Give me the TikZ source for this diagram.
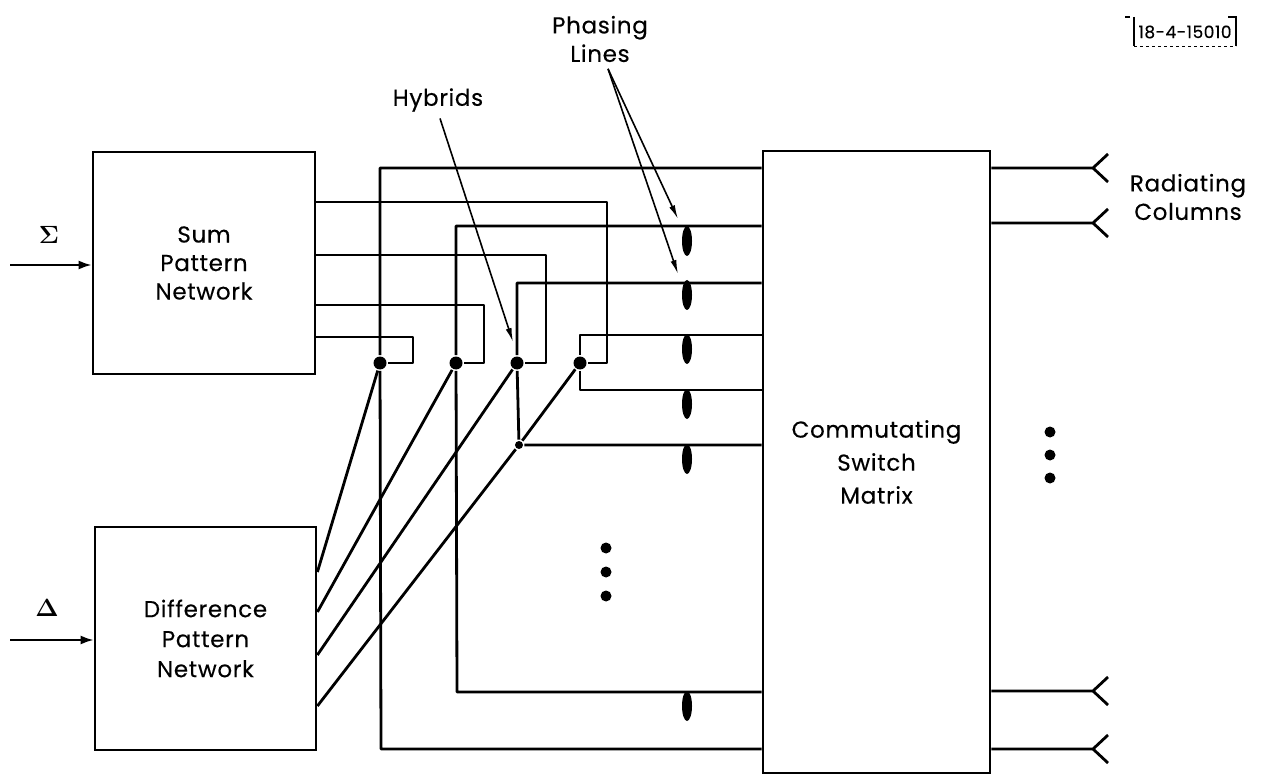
\documentclass[tikz,border=0pt]{standalone}
\usepackage{amsmath}
\usepackage{fontspec}
\setmainfont{Poppins}[LetterSpace=3,FakeBold=0.3]
\usepackage{tikz}
\usetikzlibrary{arrows.meta,positioning,shapes.geometric}

\begin{document}
\begin{tikzpicture}[
      x=1pt, y=-1pt,
      font=\fontsize{23}{28.5}\selectfont,
      line width=2.8pt,
      box/.style={draw, align=center, inner sep=0pt},
      feed/.style={line join=round},
      pointer/.style={-{Latex[length=14pt,width=6pt]}, line width=1.6pt},
      input/.style={-{Latex[length=13pt,width=9pt]}, line width=2pt},
      hybrid/.style={circle, fill=black, inner sep=0pt, minimum size=13pt},
      tee/.style={circle, fill=black, inner sep=0pt, minimum size=8pt},
      phaser/.style={ellipse, fill=black, inner sep=0pt, minimum width=10pt, minimum height=30pt},
      bigdot/.style={circle, fill=black, inner sep=0pt, minimum size=11pt}
    ]
    \useasboundingbox (0,0) rectangle (1271,775);
    \node[box, minimum width=222pt, minimum height=222pt] (sum) at (204,263) {Sum\\Pattern\\Network};
    \node[box, minimum width=221pt, minimum height=223pt, font=\fontsize{23}{30}\selectfont] (diff) at (205.5,638.5) {Difference\\Pattern\\Network};
    \node[box, minimum width=227pt, minimum height=622pt, font=\fontsize{23}{33}\selectfont] (switch) at (876.5,462) {Commutating\\Switch\\Matrix};

    % hybrids
    \node[hybrid] (hyba) at (380,363) {};
    \node[hybrid] (hybb) at (456,363) {};
    \node[hybrid] (hybc) at (517,363) {};
    \node[hybrid] (hybd) at (580,363) {};
    \node[tee] (teec) at (519,445) {};

    % sum outputs
    \draw[feed] (sum.east |- 0,202) -| (607,363) -- (hybd);
    \draw[feed] (sum.east |- 0,255) -| (546,363) -- (hybc);
    \draw[feed] (sum.east |- 0,305) -| (484,363) -- (hybb);
    \draw[feed] (sum.east |- 0,337) -| (413,363) -- (hyba);

    % difference outputs
    \draw (diff.east |- 0,572) -- (hyba);
    \draw (diff.east |- 0,612) -- (hybb);
    \draw (diff.east |- 0,655) -- (hybc);
    \draw (diff.east |- 0,706) -- (teec) -- (hybd);

    % lines into the switch
    \draw[feed] (switch.west |- 0,168) -| (hyba) -- (381,749) -- (switch.west |- 0,749);
    \draw[feed] (switch.west |- 0,226) -| (hybb) -- (457,692) -- (switch.west |- 0,692);
    \draw[feed] (switch.west |- 0,283) -| (hybc) -- (teec) -- (switch.west |- 0,445);
    \draw[feed] (switch.west |- 0,335) -| (hybd) |- (switch.west |- 0,390);

    % phasing lines
    \foreach \n/\y in {a/241, b/295, c/349, d/404, e/459, f/706}
      \node[phaser] (ph\n) at (687,\y) {};

    % radiating columns
    \foreach \n/\y in {a/168, b/223, c/691, d/749} {
      \coordinate (rad\n) at (1093,\y);
      \draw (switch.east |- rad\n) -- (rad\n) -- ++(15,-14);
      \draw (rad\n) -- ++(15,14);
    }
    \node[align=center] (radlab) at (1188,197) {Radiating\\Columns};

    % more of the same
    \foreach \n/\y in {a/548, b/572, c/596}
      \node[bigdot] (mida\n) at (606,\y) {};
    \foreach \n/\y in {a/432, b/455, c/478}
      \node[bigdot] (rta\n) at (1050,\y) {};

    % inputs
    \coordinate (sumin) at (10,265);
    \coordinate (diffin) at (10,640);
    \draw[input] (sumin) -- (sum.west |- sumin);
    \draw[input] (diffin) -- (diff.west |- diffin);
    \node[font=\fontsize{26}{30}\selectfont] (sigma) at (49,235) {$\boldsymbol{\Sigma}$};
    \node[font=\fontsize{26}{30}\selectfont] (delta) at (47,608) {$\boldsymbol{\Delta}$};

    % labels with pointers
    \node (hyblab) at (438,100) {Hybrids};
    \coordinate (hybtip) at (513,342);
    \draw[pointer] (hyblab.south) ++(2,2) -- (hybtip);
    \node[align=center] (phlab) at (600,39) {Phasing\\Lines};
    \coordinate (phtipa) at (678,219);
    \coordinate (phtipb) at (678,274);
    \draw[pointer] (phlab.south) ++(8,2) coordinate (phfoot) -- (phtipa);
    \draw[pointer] (phfoot) -- (phtipb);

    % drawing number
    \node[font=\fontsize{17}{20}\selectfont, inner sep=0pt] (tag) at (1185,32) {18-4-15010};
    \draw[line width=1.4pt] (1125,17) -- (1130,17);
    \draw[line width=1.6pt] (1134,17) -- (1134,46);
    \draw[line width=1.6pt] (1228,17) -- (1236,17) -- (1236,46);
    \draw[line width=0.8pt, dashed] (1134,46) -- (1236,46);
  \end{tikzpicture}
\end{document}
